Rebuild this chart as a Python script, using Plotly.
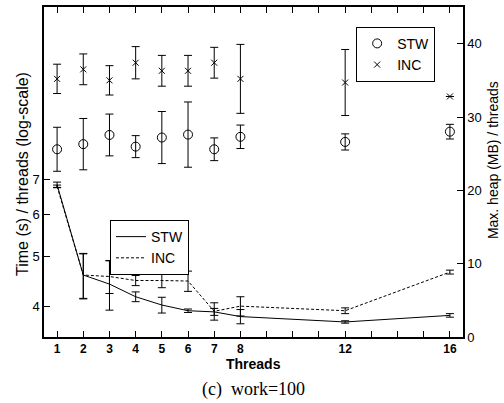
import math
import plotly.graph_objects as go

threads = [1, 2, 3, 4, 5, 6, 7, 8, 12, 16]

stw_time = [6.85, 4.60, 4.42, 4.18, 4.03, 3.93, 3.91, 3.83, 3.74, 3.85]
stw_time_err = [0.08, 0.46, 0.48, 0.09, 0.14, 0.03, 0.06, 0.12, 0.02, 0.03]
inc_time = [6.80, 4.60, 4.57, 4.49, 4.49, 4.48, 3.92, 4.01, 3.93, 4.66]
inc_time_err = [0.04, 0.45, 0.33, 0.10, 0.14, 0.20, 0.15, 0.17, 0.05, 0.04]

stw_heap = [25.6, 26.3, 27.55, 25.96, 27.2, 27.6, 25.6, 27.3, 26.6, 28.0]
stw_heap_err = [3.0, 3.5, 2.85, 1.5, 3.55, 4.45, 1.55, 1.6, 1.1, 1.0]
inc_heap = [35.2, 36.5, 35.0, 37.4, 36.3, 36.3, 37.4, 35.2, 34.7, 32.8]
inc_heap_err = [2.0, 2.1, 2.0, 2.2, 2.1, 2.1, 2.1, 4.7, 4.5, None]

x_tickvals = list(range(1, 17))
x_labeled = [1, 2, 3, 4, 5, 6, 7, 8, 12, 16]
x_ticktext = [str(v) if v in x_labeled else "" for v in x_tickvals]
y_time_ticks = [4, 5, 6, 7]
y_heap_ticks = [0, 10, 20, 30, 40]

SANS = "Liberation Sans, Arial, sans-serif"
SERIF = "Liberation Serif, Times New Roman, serif"

def ebar(vals):
    return dict(type="data", array=vals, visible=True, color="black",
                thickness=1, width=4)

fig = go.Figure()

# Time lines (left, log axis)
fig.add_trace(go.Scatter(
    x=threads, y=stw_time, mode="lines", name="STW",
    line=dict(color="black", width=1), error_y=ebar(stw_time_err),
    legend="legend2", yaxis="y"))
fig.add_trace(go.Scatter(
    x=threads, y=inc_time, mode="lines", name="INC",
    line=dict(color="black", width=1, dash="3px,2px"), error_y=ebar(inc_time_err),
    legend="legend2", yaxis="y"))

# Heap points (right axis)
fig.add_trace(go.Scatter(
    x=threads, y=stw_heap, mode="markers", name="STW",
    marker=dict(symbol="circle-open", size=9, color="black", line=dict(width=1, color="black")),
    error_y=ebar(stw_heap_err), legend="legend", yaxis="y2"))
fig.add_trace(go.Scatter(
    x=threads, y=inc_heap, mode="markers", name="INC",
    marker=dict(symbol="x-thin-open", size=6, color="black", line=dict(width=1, color="black")),
    error_y=ebar(inc_heap_err), legend="legend", yaxis="y2"))

fig.update_layout(
    width=504, height=403,
    margin=dict(l=44, r=41, t=7, b=66),
    paper_bgcolor="white", plot_bgcolor="white",
    font=dict(family=SANS, color="black", size=13),
    xaxis=dict(range=[0.5, 16.5], tickvals=x_tickvals, ticktext=x_ticktext,
               ticks="inside", ticklen=6, tickcolor="black", tickwidth=1,
               showline=True, linecolor="black", linewidth=1.5, mirror="ticks",
               showgrid=False, zeroline=False, automargin=False,
               tickfont=dict(size=12, weight="bold", family=SANS)),
    yaxis=dict(type="log", range=[math.log10(3.5), math.log10(15)],
               tickvals=y_time_ticks, ticktext=[str(v) for v in y_time_ticks],
               ticks="inside", ticklen=6, tickcolor="black", tickwidth=1,
               showline=True, linecolor="black", linewidth=1.5, automargin=False,
               showgrid=False, zeroline=False, tickfont=dict(size=13)),
    yaxis2=dict(overlaying="y", side="right", range=[0, 45],
                tickvals=y_heap_ticks, ticks="inside", ticklen=6,
                tickcolor="black", tickwidth=1, automargin=False,
                showline=True, linecolor="black", linewidth=1.5,
                showgrid=False, zeroline=False, tickfont=dict(size=13)),
    legend=dict(x=0.745, y=0.94, xanchor="left", yanchor="top",
                bordercolor="black", borderwidth=1, bgcolor="white",
                font=dict(size=14), tracegroupgap=0),
    legend2=dict(x=0.1575, y=0.3545, xanchor="left", yanchor="top",
                 bordercolor="black", borderwidth=1, bgcolor="white",
                 font=dict(size=14), tracegroupgap=0),
    annotations=[
        dict(text="Threads", xref="paper", yref="paper", x=0.5, y=-0.081,
             xanchor="center", yanchor="middle", showarrow=False,
             font=dict(size=14, weight="bold")),
        dict(text="(c)\u00a0\u00a0work=100", xref="paper", yref="paper", x=0.5, y=-0.158,
             xanchor="center", yanchor="middle", showarrow=False,
             font=dict(size=18, family=SERIF)),
        dict(text="Time (s) / threads (log-scale)", xref="paper", yref="paper",
             x=-0.0501, y=0.494, xanchor="center", yanchor="middle",
             textangle=-90, showarrow=False, font=dict(size=16)),
        dict(text="Max. heap (MB) / threads", xref="paper", yref="paper",
             x=1.0716, y=0.536, xanchor="center", yanchor="middle",
             textangle=-90, showarrow=False, font=dict(size=14)),
    ],
)

fig.write_html("out.html", config={"displayModeBar": False},
               post_script="document.body.style.margin='0';document.body.style.padding='0';")
